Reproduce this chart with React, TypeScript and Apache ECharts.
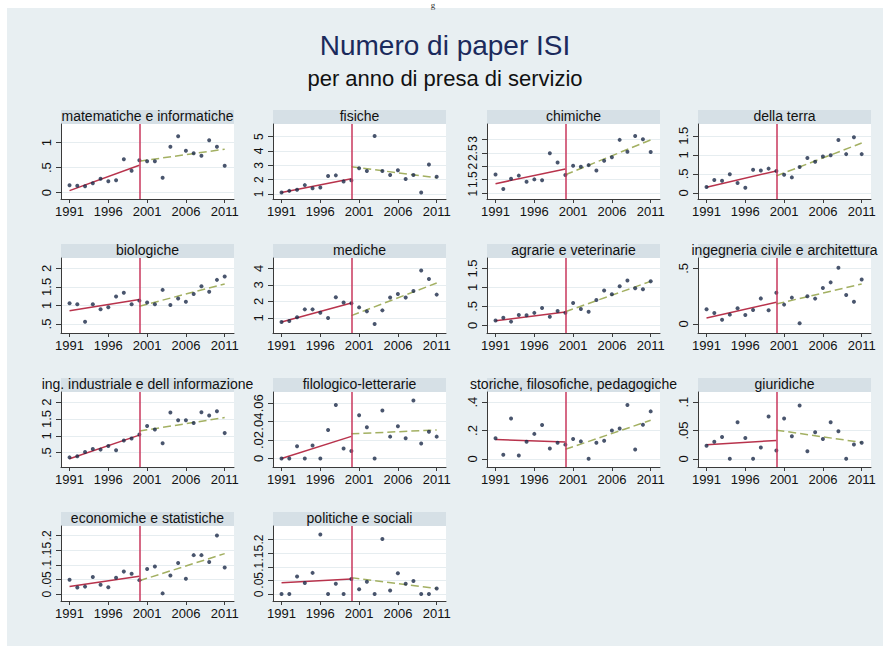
import React, { useEffect, useRef } from "react";
import * as echarts from "echarts";

// Years of hiring (anno di presa di servizio)
const years = [1991, 1992, 1993, 1994, 1995, 1996, 1997, 1998, 1999, 2000, 2001, 2002, 2003, 2004, 2005, 2006, 2007, 2008, 2009, 2010, 2011];
const tickYears = [1991, 1996, 2001, 2006, 2011];
const breakYear = 2000;

// Average number of ISI papers per area, one value per year
const matematiche = [0.15, 0.14, 0.13, 0.19, 0.28, 0.23, 0.25, 0.67, 0.44, 0.65, 0.63, 0.63, 0.3, 0.92, 1.13, 0.84, 0.79, 0.74, 1.05, 0.92, 0.54];
const fisiche = [1.1, 1.22, 1.3, 1.62, 1.4, 1.45, 2.25, 2.3, 1.88, 1.95, 2.8, 2.6, 5.05, 2.6, 2.32, 2.65, 2.05, 2.32, 1.1, 3.05, 2.2];
const chimiche = [1.69, 1.15, 1.53, 1.65, 1.42, 1.51, 1.48, 2.48, 2.14, 1.67, 2.02, 1.98, 2.04, 1.84, 2.2, 2.33, 2.98, 2.54, 3.12, 3.0, 2.53];
const dellaTerra = [0.16, 0.34, 0.32, 0.49, 0.26, 0.14, 0.61, 0.59, 0.64, 0.58, 0.48, 0.41, 0.68, 0.92, 0.82, 0.96, 0.99, 1.39, 1.02, 1.46, 1.02];
const biologiche = [1.06, 1.03, 0.56, 1.03, 0.9, 0.95, 1.24, 1.34, 1.03, 1.13, 1.08, 1.03, 1.42, 1.01, 1.19, 1.1, 1.31, 1.52, 1.37, 1.69, 1.78];
const mediche = [0.76, 0.82, 1.04, 1.52, 1.52, 1.32, 1.0, 2.25, 1.93, 1.89, 1.64, 1.4, 0.64, 1.46, 2.23, 2.45, 2.23, 2.63, 3.86, 3.35, 2.41];
const agrarie = [0.13, 0.2, 0.1, 0.275, 0.27, 0.33, 0.46, 0.23, 0.38, 0.33, 0.59, 0.43, 0.36, 0.67, 0.92, 0.82, 1.03, 1.18, 0.98, 0.95, 1.16];
const ingCivile = [0.132, 0.099, 0.039, 0.084, 0.141, 0.081, 0.126, 0.23, 0.123, 0.28, 0.174, 0.237, 0.006, 0.25, 0.228, 0.323, 0.374, 0.506, 0.26, 0.2, 0.4];
const ingIndustriale = [0.36, 0.39, 0.52, 0.61, 0.59, 0.7, 0.57, 0.86, 0.92, 1.04, 1.29, 1.19, 0.78, 1.69, 1.46, 1.46, 1.38, 1.7, 1.6, 1.73, 1.08];
const filologico = [0, 0, 0.0133, 0, 0.014, 0, 0.031, 0.058, 0.0107, 0.008, 0.047, 0.034, 0, 0.052, 0.0237, 0.035, 0.022, 0.063, 0.0163, 0.029, 0.0237];
const storiche = [0.145, 0.029, 0.284, 0.024, 0.12, 0.176, 0.239, 0.072, 0.113, 0.1, 0.14, 0.123, 0, 0.113, 0.128, 0.2, 0.214, 0.38, 0.065, 0.241, 0.335];
const giuridiche = [0.0229, 0.03, 0.0386, 0, 0.0645, 0.0367, 0, 0.0199, 0.0747, 0.0145, 0.071, 0.0398, 0.094, 0.0133, 0.047, 0.035, 0.0645, 0.0488, 0, 0.0253, 0.0283];
const economiche = [0.049, 0.023, 0.026, 0.059, 0.032, 0.024, 0.056, 0.077, 0.07, 0.048, 0.086, 0.094, 0.003, 0.064, 0.106, 0.053, 0.133, 0.133, 0.11, 0.2, 0.091];
const politiche = [0, 0, 0.064, 0.04, 0.0775, 0.219, 0, 0.0375, 0, 0.055, 0.0175, 0.045, 0, 0.2025, 0.0125, 0.076, 0.0375, 0.0475, 0, 0, 0.02];

const panelTitles = [
  "matematiche e informatiche", "fisiche", "chimiche", "della terra",
  "biologiche", "mediche", "agrarie e veterinarie", "ingegneria civile e architettura",
  "ing. industriale e dell informazione", "filologico-letterarie", "storiche, filosofiche, pedagogiche", "giuridiche",
  "economiche e statistiche", "politiche e sociali",
];
const panelValues = [
  matematiche, fisiche, chimiche, dellaTerra,
  biologiche, mediche, agrarie, ingCivile,
  ingIndustriale, filologico, storiche, giuridiche,
  economiche, politiche,
];

// Linear fits: value at 1991 and 2000 (before), at 2000 and 2011 (after)
const fitBefore = [
  [0.04, 0.55], [1.1, 2.07], [1.35, 1.9], [0.15, 0.58],
  [0.86, 1.16], [0.76, 1.91], [0.12, 0.35], [0.054, 0.195],
  [0.32, 1.02], [0, 0.024], [0.137, 0.118], [0.0247, 0.0325],
  [0.026, 0.061], [0.041, 0.055],
];
const fitAfter = [
  [0.63, 0.87], [2.9, 2.13], [1.68, 2.98], [0.45, 1.31],
  [0.98, 1.58], [1.14, 3.11], [0.36, 1.16], [0.18, 0.36],
  [1.14, 1.54], [0.0267, 0.031], [0.067, 0.272], [0.0506, 0.0289],
  [0.046, 0.138], [0.06, 0.02],
];

// Y axis ticks and ranges per panel
const yTicks = [
  [0, 0.5, 1], [1, 2, 3, 4, 5], [1, 1.5, 2, 2.5, 3], [0, 0.5, 1, 1.5],
  [0.5, 1, 1.5, 2], [1, 2, 3, 4], [0, 0.5, 1, 1.5], [0, 0.5],
  [0.5, 1, 1.5, 2], [0, 0.02, 0.04, 0.06], [0, 0.2, 0.4], [0, 0.05, 0.1],
  [0, 0.05, 0.1, 0.15, 0.2], [0, 0.05, 0.1, 0.15, 0.2],
];
const yRanges = [
  [-0.127, 1.374], [0.653, 5.88], [0.78, 3.57], [-0.157, 1.81],
  [0.257, 2.28], [0.094, 4.62], [-0.2, 1.775], [-0.081, 0.593],
  [0.074, 2.3], [-0.0093, 0.0722], [-0.058, 0.472], [-0.0145, 0.118],
  [-0.0229, 0.232], [-0.026, 0.25],
];

const FONT = "Liberation Sans, Arial, Helvetica, sans-serif";
const colLeft = [61, 273, 487, 698];
const rowTop = [124, 258, 392, 526];
const plotW = 173;
const plotH = 75;
const headerH = 14;

const fmtY = (v: number) => {
  const s = String(+Number(v).toFixed(4));
  return s.replace(/^0\./, ".").replace(/^-0\./, "-.");
};

export default function App() {
  const ref = useRef<HTMLDivElement>(null);

  useEffect(() => {
    if (!ref.current) return;
    const chart = echarts.init(ref.current, undefined, { renderer: "svg" });

    const grids: any[] = [];
    const xAxes: any[] = [];
    const yAxes: any[] = [];
    const series: any[] = [];
    const graphics: any[] = [
      { type: "rect", z: -10, shape: { x: 7, y: 8, width: 876, height: 638 }, style: { fill: "#e8eff2" } },
      {
        type: "text", x: 433, y: 0,
        style: { text: "g", font: "9px Liberation Serif", fill: "#333", textAlign: "center", textVerticalAlign: "top" },
      },
      {
        type: "text", x: 445, y: 45,
        style: { text: "Numero di paper ISI", font: "28px " + FONT, fill: "#1b2a5c", textAlign: "center", textVerticalAlign: "middle" },
      },
      {
        type: "text", x: 445, y: 78,
        style: { text: "per anno di presa di servizio", font: "22px " + FONT, fill: "#111", textAlign: "center", textVerticalAlign: "middle" },
      },
    ];

    panelTitles.forEach((title, i) => {
      const left = colLeft[i % 4];
      const top = rowTop[Math.floor(i / 4)];
      grids.push({ left, top, width: plotW, height: plotH, show: true, backgroundColor: "#ffffff", borderWidth: 0 });
      graphics.push({
        type: "rect", shape: { x: left, y: top - headerH, width: plotW, height: headerH },
        style: { fill: "#d6e0e6" },
      });
      graphics.push({
        type: "text", x: left + plotW / 2, y: top - headerH / 2 - 1,
        style: { text: title, font: "14px " + FONT, fill: "#111", textAlign: "center", textVerticalAlign: "middle" },
      });

      xAxes.push({
        type: "value", gridIndex: i, min: 1989.9, max: 2012.2,
        axisLine: { show: true, onZero: false, lineStyle: { color: "#3a3a3a", width: 1 } },
        axisTick: { show: true, customValues: tickYears, length: 4, lineStyle: { color: "#3a3a3a" } },
        axisLabel: {
          customValues: tickYears, formatter: (v: number) => String(v), fontFamily: FONT, fontSize: 13,
          color: "#111", margin: 6, showMinLabel: true, showMaxLabel: true, hideOverlap: false,
        },
        splitLine: { show: false },
      });
      yAxes.push({
        type: "value", gridIndex: i, min: yRanges[i][0], max: yRanges[i][1],
        axisLine: { show: true, onZero: false, lineStyle: { color: "#3a3a3a", width: 1 } },
        axisTick: { show: true, customValues: yTicks[i], length: 5, lineStyle: { color: "#3a3a3a" } },
        axisLabel: {
          customValues: yTicks[i], formatter: fmtY, rotate: 90, fontFamily: FONT,
          fontSize: yTicks[i].length >= 5 ? 12 : 13, color: "#111",
          margin: 8, showMinLabel: true, showMaxLabel: true, hideOverlap: false,
        },
        splitLine: { show: true, lineStyle: { color: "#e6edf0", width: 1 } },
      });

      series.push({
        type: "scatter", xAxisIndex: i, yAxisIndex: i, z: 3,
        data: years.map((yr, k) => [yr, panelValues[i][k]]),
        symbolSize: 4, itemStyle: { color: "#1b2a48" },
        markLine: {
          silent: true, symbol: "none", label: { show: false },
          lineStyle: { color: "#c8375d", width: 1.5, type: "solid" },
          data: [{ xAxis: breakYear }],
        },
      });
      series.push({
        type: "line", xAxisIndex: i, yAxisIndex: i, symbol: "none", z: 2,
        data: [[years[0], fitBefore[i][0]], [breakYear, fitBefore[i][1]]],
        lineStyle: { color: "#b8334c", width: 1.5 },
      });
      series.push({
        type: "line", xAxisIndex: i, yAxisIndex: i, symbol: "none", z: 2,
        data: [[breakYear, fitAfter[i][0]], [years[years.length - 1], fitAfter[i][1]]],
        lineStyle: { color: "#a3b062", width: 1.5, type: [8, 4] },
      });
    });

    chart.setOption({
      animation: false,
      backgroundColor: "#ffffff",
      grid: grids,
      xAxis: xAxes,
      yAxis: yAxes,
      series,
      graphic: graphics,
    });

    return () => chart.dispose();
  }, []);

  return <div ref={ref} style={{ position: "absolute", left: 0, top: 0, width: 889, height: 652 }} />;
}
